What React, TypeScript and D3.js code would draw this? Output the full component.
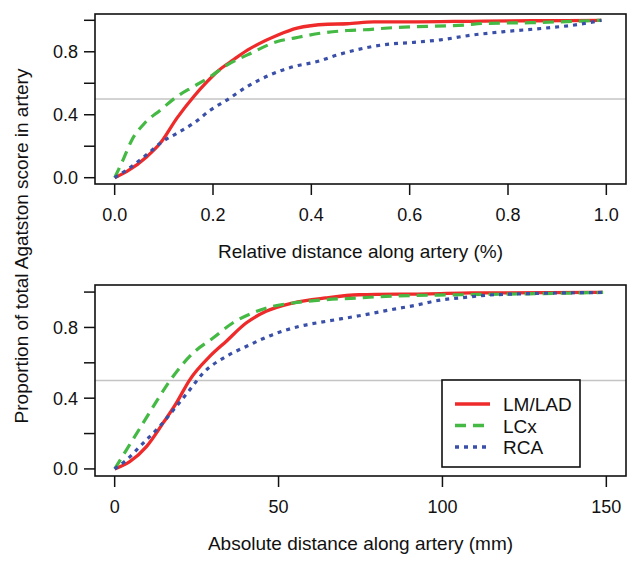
import * as d3 from 'd3';

// Relative distance panel (fraction of artery length)
const relLadX = [0, 0.025, 0.066, 0.093, 0.127, 0.161, 0.188, 0.209, 0.242, 0.27, 0.331, 0.371, 0.433, 0.473, 0.527, 0.6, 0.75, 0.85, 0.99];
const relLadY = [0, 0.04, 0.135, 0.22, 0.38, 0.516, 0.61, 0.675, 0.75, 0.81, 0.905, 0.95, 0.975, 0.978, 0.99, 0.99, 0.995, 0.997, 1.0];
const relLcxX = [0, 0.018, 0.035, 0.059, 0.093, 0.127, 0.161, 0.195, 0.229, 0.27, 0.331, 0.365, 0.419, 0.473, 0.507, 0.575, 0.711, 0.75, 0.847, 0.99];
const relLcxY = [0, 0.12, 0.24, 0.34, 0.43, 0.516, 0.58, 0.643, 0.717, 0.78, 0.865, 0.887, 0.918, 0.935, 0.94, 0.955, 0.97, 0.98, 0.985, 1.0];
const relRcaX = [0, 0.025, 0.073, 0.093, 0.127, 0.161, 0.195, 0.229, 0.27, 0.317, 0.365, 0.412, 0.453, 0.507, 0.548, 0.609, 0.663, 0.724, 0.792, 0.874, 0.942, 0.99];
const relRcaY = [0, 0.05, 0.167, 0.22, 0.283, 0.347, 0.43, 0.495, 0.58, 0.654, 0.707, 0.738, 0.78, 0.823, 0.845, 0.86, 0.876, 0.905, 0.928, 0.95, 0.973, 1.0];

// Absolute distance panel (mm)
const absLadX = [0, 4.6, 9.7, 14.8, 18.8, 22.9, 29, 34, 40.1, 46.2, 54.3, 64.4, 74.6, 95.9, 109, 149];
const absLadY = [0, 0.041, 0.126, 0.26, 0.372, 0.504, 0.636, 0.721, 0.825, 0.891, 0.938, 0.967, 0.985, 0.99, 0.995, 0.998];
const absLcxX = [0, 3.6, 8.7, 13.7, 17.8, 23.9, 30, 36, 42.1, 48.2, 54.3, 64.4, 74.6, 82.7, 106, 126, 149];
const absLcxY = [0, 0.108, 0.26, 0.41, 0.523, 0.655, 0.74, 0.825, 0.882, 0.919, 0.938, 0.957, 0.967, 0.976, 0.985, 0.99, 0.998];
const absRcaX = [0, 3.6, 8.7, 13.7, 18.8, 22.9, 27, 34, 40.1, 48.2, 56.3, 64.4, 74.6, 85.7, 91.8, 97.9, 108, 116, 149];
const absRcaY = [0, 0.051, 0.146, 0.24, 0.353, 0.447, 0.542, 0.636, 0.692, 0.759, 0.806, 0.834, 0.866, 0.905, 0.925, 0.95, 0.972, 0.985, 0.998];

const seriesNames = ['LM/LAD', 'LCx', 'RCA'];
const relTicks = [0, 0.2, 0.4, 0.6, 0.8, 1.0];
const absTicks = [0, 50, 100, 150];
const yTicks = [0, 0.2, 0.4, 0.6, 0.8, 1.0];
const yLabelTicks = [0, 0.4, 0.8];

const STYLES = [
  { color: '#ee2a2a', dash: undefined as string | undefined },
  { color: '#44b944', dash: '11 7' },
  { color: '#3a50a8', dash: '4 5' },
];

const FONT = 'Liberation Sans, Arial, sans-serif';
const LEFT = 95;
const RIGHT = 626;

interface PanelProps {
  top: number;
  bottom: number;
  xDomain: [number, number];
  xTicks: number[];
  xFormat: (v: number) => string;
  xTitle: string;
  series: { x: number[]; y: number[] }[];
  legend?: boolean;
}

function Panel({ top, bottom, xDomain, xTicks, xFormat, xTitle, series, legend }: PanelProps) {
  const span = xDomain[1] - xDomain[0];
  const x = d3.scaleLinear()
    .domain([xDomain[0] - span * 0.04, xDomain[1] + span * 0.04])
    .range([LEFT, RIGHT]);
  const y = d3.scaleLinear().domain([-0.04, 1.04]).range([bottom, top]);

  const line = d3.line<[number, number]>()
    .x(d => x(d[0]))
    .y(d => y(d[1]))
    .curve(d3.curveMonotoneX);

  return (
    <g>
      <line x1={LEFT} x2={RIGHT} y1={y(0.5)} y2={y(0.5)} stroke="#c4c4c4" strokeWidth={1.5} />
      {series.map((s, i) => (
        <path
          key={i}
          d={line(s.x.map((v, j) => [v, s.y[j]] as [number, number])) || ''}
          fill="none"
          stroke={STYLES[i].color}
          strokeWidth={i === 0 ? 3.3 : 3.2}
          strokeDasharray={STYLES[i].dash}
          strokeLinejoin="round"
        />
      ))}
      <rect x={LEFT} y={top} width={RIGHT - LEFT} height={bottom - top} fill="none" stroke="#111" strokeWidth={1.6} />
      {xTicks.map(t => (
        <g key={t}>
          <line x1={x(t)} x2={x(t)} y1={bottom} y2={bottom + 11} stroke="#111" strokeWidth={1.5} />
          <text x={x(t)} y={bottom + 37} textAnchor="middle" fontSize={18} fontFamily={FONT} fill="#111">
            {xFormat(t)}
          </text>
        </g>
      ))}
      {yTicks.map(t => (
        <line key={t} x1={LEFT - 11} x2={LEFT} y1={y(t)} y2={y(t)} stroke="#111" strokeWidth={1.5} />
      ))}
      {yLabelTicks.map(t => (
        <text key={t} x={LEFT - 17} y={y(t) + 6.5} textAnchor="end" fontSize={18} fontFamily={FONT} fill="#111">
          {t.toFixed(1)}
        </text>
      ))}
      <text x={(LEFT + RIGHT) / 2} y={bottom + 74} textAnchor="middle" fontSize={19} fontFamily={FONT} fill="#111">
        {xTitle}
      </text>
      {legend && (
        <g>
          <rect x={442} y={380} width={138} height={87} fill="#fff" stroke="#111" strokeWidth={1.6} />
          {seriesNames.map((name, i) => (
            <g key={name} transform={`translate(0, ${404 + i * 21.5})`}>
              <line x1={455} x2={490} y1={0} y2={0} stroke={STYLES[i].color} strokeWidth={3.3} strokeDasharray={STYLES[i].dash} />
              <text x={503} y={7} fontSize={19} fontFamily={FONT} fill="#111">{name}</text>
            </g>
          ))}
        </g>
      )}
    </g>
  );
}

export default function App() {
  return (
    <svg width={640} height={567} style={{ position: 'absolute', left: 0, top: 0, background: '#fff' }}>
      <rect width={640} height={567} fill="#fff" />
      <Panel
        top={14}
        bottom={184}
        xDomain={[0, 1]}
        xTicks={relTicks}
        xFormat={v => v.toFixed(1)}
        xTitle="Relative distance along artery (%)"
        series={[
          { x: relLadX, y: relLadY },
          { x: relLcxX, y: relLcxY },
          { x: relRcaX, y: relRcaY },
        ]}
      />
      <Panel
        top={285}
        bottom={476}
        xDomain={[0, 150]}
        xTicks={absTicks}
        xFormat={v => String(v)}
        xTitle="Absolute distance along artery (mm)"
        series={[
          { x: absLadX, y: absLadY },
          { x: absLcxX, y: absLcxY },
          { x: absRcaX, y: absRcaY },
        ]}
        legend
      />
      <text
        transform="translate(28, 246) rotate(-90)"
        textAnchor="middle"
        fontSize={19}
        fontFamily={FONT}
        fill="#111"
      >
        Proportion of total Agatston score in artery
      </text>
    </svg>
  );
}
